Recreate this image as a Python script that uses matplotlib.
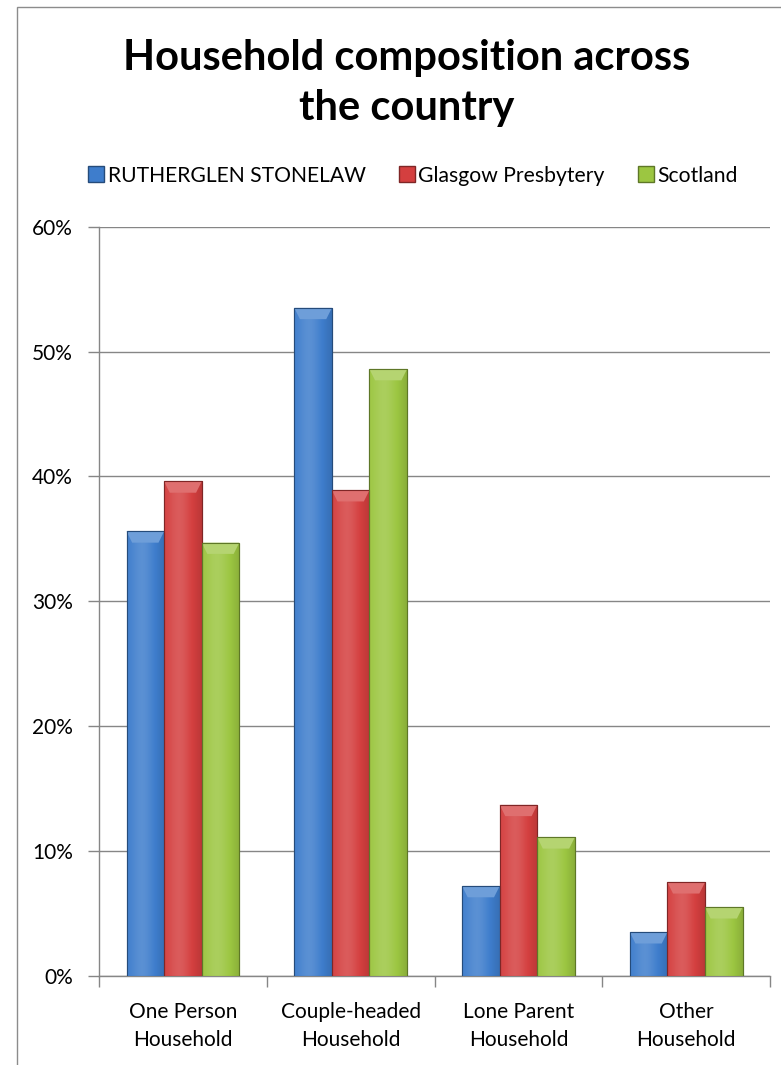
import numpy as np
import matplotlib
matplotlib.use("Agg")
import matplotlib.pyplot as plt
from matplotlib.colors import to_rgb
from matplotlib.patches import Rectangle
from matplotlib.lines import Line2D

plt.rcParams['font.family'] = ['Lato', 'DejaVu Sans']

categories = ['One Person\nHousehold', 'Couple-headed\nHousehold',
              'Lone Parent\nHousehold', 'Other\nHousehold']
series_names = ['RUTHERGLEN STONELAW', 'Glasgow Presbytery', 'Scotland']
rutherglen = [35.6, 53.5, 7.2, 3.5]
glasgow = [39.6, 38.9, 13.7, 7.5]
scotland = [34.7, 48.6, 11.1, 5.5]
colors = ['#3E7DCC', '#D43F3F', '#9CC641']
y_ticks = [0, 10, 20, 30, 40, 50, 60]


def shade(color, f):
    c = np.array(to_rgb(color))
    if f >= 0:
        return tuple(c + (1 - c) * f)
    return tuple(c * (1 + f))


fig = plt.figure(figsize=(7.81, 10.65), dpi=100)
ax = fig.add_axes([0.1268, 0.0836, 0.986 - 0.1268, 0.7871 - 0.0836])

x = np.arange(len(categories))
width = 0.224
for i, (vals, col) in enumerate(zip([rutherglen, glasgow, scotland], colors)):
    bars = ax.bar(x + (i - 1) * width, vals, width, color=col,
                  edgecolor=shade(col, -0.35), linewidth=0.8, zorder=3)
    # simple horizontal gradient to mimic the bevelled look
    grad = np.linspace(0, 1, 64)
    prof = 0.15 * np.exp(-((grad - 0.4) / 0.3) ** 2) - 0.12 * (grad ** 4)
    img = np.zeros((1, 64, 3))
    for k, p in enumerate(prof):
        img[0, k] = shade(col, p)
    for b in bars:
        bx, by = b.get_x(), b.get_y()
        bw, bh = b.get_width(), b.get_height()
        im = ax.imshow(img, extent=[bx, bx + bw, by, by + bh], aspect='auto',
                       zorder=3.5, interpolation='bilinear')
        im.set_clip_path(b)
        # lighter bevel at top
        cap = min(0.9, bh)
        ax.fill([bx, bx + bw, bx + bw * 0.85, bx + bw * 0.15],
                [by + bh, by + bh, by + bh - cap, by + bh - cap],
                color=shade(col, 0.25), zorder=3.6, lw=0)
        ax.add_patch(Rectangle((bx, by), bw, bh, fill=False,
                               edgecolor=shade(col, -0.4), lw=0.8, zorder=3.7))

ax.set_xlim(-0.5, 3.5)
ax.set_ylim(0, 60)
ax.set_yticks(y_ticks)
ax.set_yticklabels([f'{v}%' for v in y_ticks], fontsize=15)
ax.set_xticks([-0.5, 0.5, 1.5, 2.5, 3.5])
ax.set_xticklabels([])
ax.set_xticks(x, minor=True)
ax.set_xticklabels(categories, minor=True, fontsize=15, linespacing=1.45)
ax.tick_params(axis='x', which='minor', length=0, pad=19)
ax.tick_params(axis='x', which='major', length=8, color='#868686', width=1)
ax.tick_params(axis='y', length=8, color='#868686', width=1, pad=11)
ax.grid(axis='y', color='#868686', linewidth=1, zorder=0)
for s in ['top', 'right']:
    ax.spines[s].set_visible(False)
for s in ['left', 'bottom']:
    ax.spines[s].set_color('#868686')
    ax.spines[s].set_linewidth(1)

fig.text(407 / 781, 1 - 120 / 1065, 'Household composition across\nthe country',
         ha='center', va='baseline', fontsize=30, fontweight='bold',
         linespacing=1.38)

handles = [Line2D([], [], marker='s', linestyle='none', markersize=11,
                  markerfacecolor=c, markeredgecolor=shade(c, -0.4))
           for c in colors]
fig.legend(handles, series_names, loc='center', bbox_to_anchor=(0.527, 0.835),
           ncol=3, frameon=False, fontsize=15.2, handletextpad=0.05,
           columnspacing=1.45, handlelength=1.0)

# chart frame: left and top edges visible, right/bottom run off the image
fig.add_artist(Rectangle((17 / 781, -0.01), 0.99, 1 - 7 / 1065 + 0.01,
                         transform=fig.transFigure, fill=False,
                         edgecolor='#8c8c8c', lw=1))

fig.savefig('out.png', dpi=100)
